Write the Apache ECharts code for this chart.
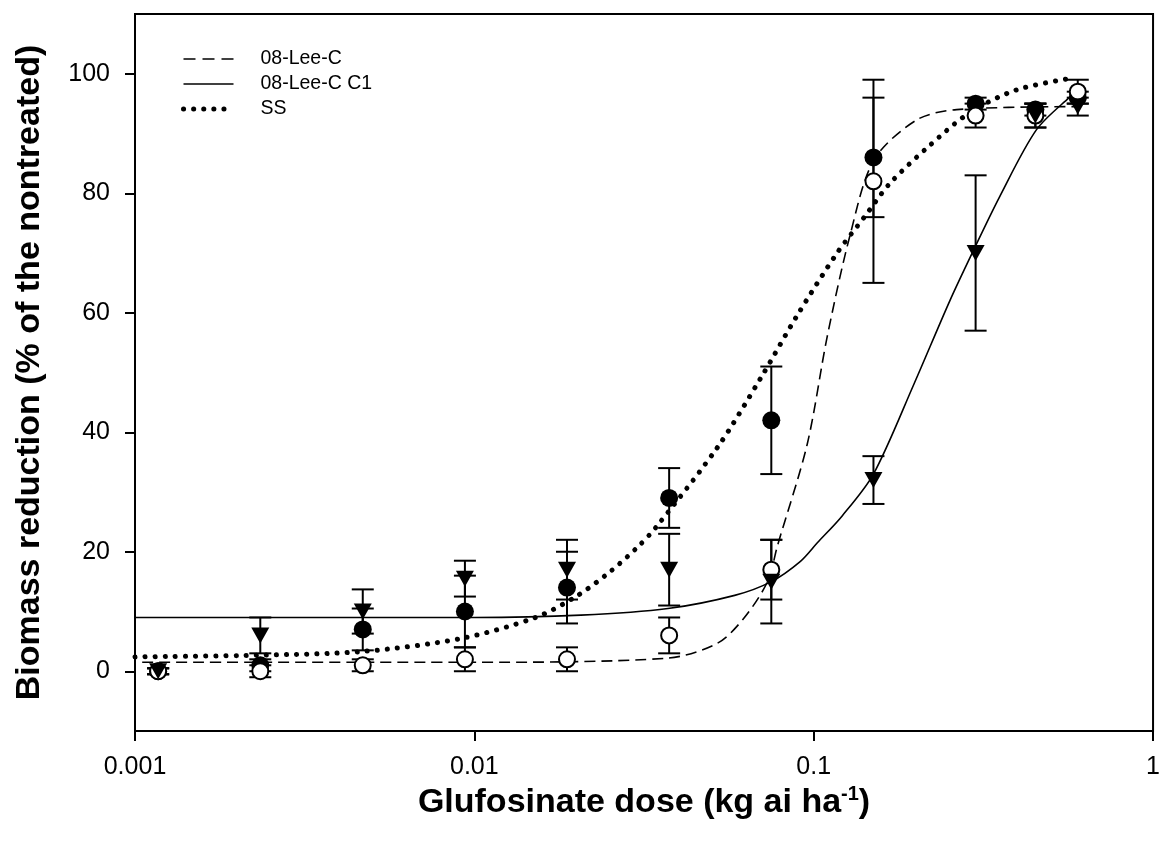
<!DOCTYPE html>
<html>
<head>
<meta charset="utf-8">
<script src="https://cdn.jsdelivr.net/npm/echarts@6/dist/echarts.min.js"></script>
<style>
  html, body { margin: 0; padding: 0; background: #fff; }
  #chart { width: 1163px; height: 846px; }
</style>
</head>
<body>
<div id="chart"></div>
<script>
// glufosinate doses (kg ai/ha)
const doses = [0.00117, 0.00234, 0.00469, 0.00938, 0.01875, 0.0375, 0.075, 0.15, 0.3, 0.45, 0.6]

// observed means and error bars
const leeC = [0, 0, 1, 2, 2, 6, 17, 82, 93, 93, 97]
const leeCErr = [0.5, 1, 1, 2, 2, 3, 5, 17, 2, 2, 2]
const leeC1 = [0, 6, 10, 15.5, 17, 17, 15, 32, 70, 93, 94.5]
const leeC1Err = [0.5, 3, 3.7, 3, 5, 6, 7, 4, 13, 2, 1.5]
const ss = [0, 1, 7, 10, 14, 29, 42, 86, 95, 94, 96]
const ssErr = [0.5, 1, 3.5, 6, 6, 5, 9, 10, 1, 1, 1]

// fitted curves
const leeCFitX = [0.00105, 0.01, 0.0372, 0.0521, 0.0625, 0.0731, 0.0782, 0.0957, 0.1096, 0.128, 0.1506, 0.2015, 0.2637, 0.594]
const leeCFitY = [1.5, 1.5, 2.2, 4.7, 9, 15, 21, 38, 56, 73, 85.6, 92.3, 94, 94.5]
const leeC1FitX = [0.001, 0.01, 0.0206, 0.0372, 0.0585, 0.075, 0.0914, 0.1025, 0.1213, 0.15, 0.1972, 0.2518, 0.296, 0.353, 0.453, 0.566, 0.6]
const leeC1FitY = [9, 9, 9.4, 10.5, 12.7, 15, 18.4, 21.5, 26, 33, 48, 62, 70.5, 79.4, 90.6, 96, 97]
const ssFitX = [0.001, 0.00238, 0.00467, 0.00918, 0.01514, 0.0198, 0.0248, 0.0303, 0.0343, 0.0521, 0.0697, 0.0895, 0.1172, 0.141, 0.168, 0.2198, 0.2884, 0.396, 0.582]
const ssFitY = [2.4, 2.7, 3.3, 5.5, 9, 12.4, 16.4, 20.8, 24.1, 37.5, 49, 59.6, 70, 76, 81.7, 88, 93.5, 97.3, 99.3]

const yTicks = [0, 20, 40, 60, 80, 100]
const xTickLabels = ['0.001', '0.01', '0.1', '1']
const legendNames = ['08-Lee-C', '08-Lee-C C1', 'SS']

const FONT = 'Liberation Sans, Arial, sans-serif'

function zip(xs, ys) {
  return xs.map((x, i) => [x, ys[i]])
}

function bars(means, errs) {
  return doses.map((d, i) => [d, means[i] - errs[i], means[i] + errs[i]])
}

// vertical error bar with caps
function renderBar(params, api) {
  const lo = api.coord([api.value(0), api.value(1)])
  const hi = api.coord([api.value(0), api.value(2)])
  const w = 11
  const style = { stroke: '#000', lineWidth: 2 }
  return {
    type: 'group',
    children: [
      { type: 'line', shape: { x1: lo[0], y1: lo[1], x2: hi[0], y2: hi[1] }, style },
      { type: 'line', shape: { x1: hi[0] - w, y1: hi[1], x2: hi[0] + w, y2: hi[1] }, style },
      { type: 'line', shape: { x1: lo[0] - w, y1: lo[1], x2: lo[0] + w, y2: lo[1] }, style }
    ]
  }
}

function errorSeries(means, errs) {
  return {
    type: 'custom',
    renderItem: renderBar,
    data: bars(means, errs),
    encode: { x: 0, y: [1, 2] },
    silent: true,
    z: 2
  }
}

function fitSeries(name, xs, ys, lineStyle) {
  return {
    name,
    type: 'line',
    data: zip(xs, ys),
    showSymbol: false,
    symbol: 'none',
    smooth: 0.3,
    lineStyle: { color: '#000', ...lineStyle },
    itemStyle: { color: '#000' },
    z: 1
  }
}

const chart = echarts.init(document.getElementById('chart'))

// 坐标轴公共样式
const axisCommon = {
  axisLine: { show: true, onZero: false, lineStyle: { color: '#000', width: 2 } },
  axisTick: { show: true, inside: false, length: 10, lineStyle: { color: '#000', width: 2 } },
  axisLabel: { color: '#000', fontSize: 25, fontFamily: FONT },
  splitLine: { show: false },
  nameLocation: 'middle',
  nameTextStyle: { color: '#000', fontSize: 34, fontWeight: 'bold', fontFamily: FONT }
}

const dashStyle = { width: 1.6, type: [11, 6] }
const solidStyle = { width: 1.6, type: 'solid' }
const dotStyle = { width: 5, type: [0.1, 10], cap: 'round' }

const option = {
  animation: false,
  backgroundColor: '#fff',
  grid: {
    left: 135,
    right: 6,
    top: 14,
    bottom: 115,
    show: true,
    borderColor: '#000',
    borderWidth: 2
  },
  legend: {
    data: [
      { name: legendNames[0], lineStyle: { ...dashStyle, type: [12, 7] } },
      { name: legendNames[1], lineStyle: solidStyle },
      { name: legendNames[2], lineStyle: { ...dotStyle, type: [0.1, 10] } }
    ],
    orient: 'vertical',
    left: 176,
    top: 44,
    itemWidth: 50,
    itemHeight: 14,
    itemGap: 5,
    selectedMode: false,
    itemStyle: { opacity: 0 },
    textStyle: { color: '#000', fontSize: 19.5, fontFamily: FONT, padding: [0, 0, 0, 22] }
  },
  xAxis: {
    type: 'log',
    logBase: 10,
    min: 0.001,
    max: 1,
    ...axisCommon,
    axisLabel: {
      ...axisCommon.axisLabel,
      margin: 24,
      formatter: v => xTickLabels[Math.round(Math.log10(v)) + 3]
    },
    minorTick: { show: false },
    name: 'Glufosinate dose (kg ai ha{sup|-1})',
    nameGap: 49,
    nameTextStyle: {
      ...axisCommon.nameTextStyle,
      rich: {
        sup: { fontSize: 20, fontWeight: 'bold', fontFamily: FONT, color: '#000', verticalAlign: 'top', lineHeight: 36 }
      }
    }
  },
  yAxis: {
    type: 'value',
    min: -10,
    max: 110,
    ...axisCommon,
    axisTick: { ...axisCommon.axisTick, customValues: yTicks },
    axisLabel: { ...axisCommon.axisLabel, margin: 25, customValues: yTicks },
    name: 'Biomass reduction (% of the nontreated)',
    nameGap: 88
  },
  series: [
    fitSeries(legendNames[0], leeCFitX, leeCFitY, dashStyle),
    fitSeries(legendNames[1], leeC1FitX, leeC1FitY, solidStyle),
    fitSeries(legendNames[2], ssFitX, ssFitY, dotStyle),
    errorSeries(ss, ssErr),
    errorSeries(leeC, leeCErr),
    errorSeries(leeC1, leeC1Err),
    {
      name: 'ss-pts',
      type: 'scatter',
      data: zip(doses, ss),
      symbol: 'circle',
      symbolSize: 18,
      itemStyle: { color: '#000', opacity: 1 },
      z: 3
    },
    {
      name: 'leeC-pts',
      type: 'scatter',
      data: zip(doses, leeC),
      symbol: 'circle',
      symbolSize: 16,
      itemStyle: { color: '#fff', borderColor: '#000', borderWidth: 2, opacity: 1 },
      z: 4
    },
    {
      name: 'leeC1-pts',
      type: 'scatter',
      data: zip(doses, leeC1),
      symbol: 'triangle',
      symbolRotate: 180,
      symbolSize: [18, 16],
      itemStyle: { color: '#000', opacity: 1 },
      z: 5
    }
  ]
}

chart.setOption(option)
</script>
</body>
</html>
